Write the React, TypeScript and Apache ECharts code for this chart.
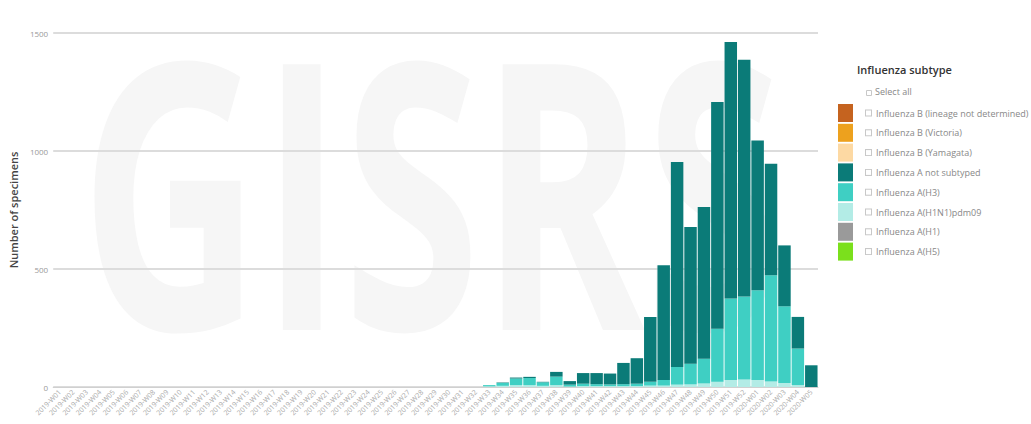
import React, { useEffect, useRef } from "react";
import * as echarts from "echarts";

const weeks: string[] = [
  "2019-W01","2019-W02","2019-W03","2019-W04","2019-W05","2019-W06","2019-W07","2019-W08","2019-W09","2019-W10",
  "2019-W11","2019-W12","2019-W13","2019-W14","2019-W15","2019-W16","2019-W17","2019-W18","2019-W19","2019-W20",
  "2019-W21","2019-W22","2019-W23","2019-W24","2019-W25","2019-W26","2019-W27","2019-W28","2019-W29","2019-W30",
  "2019-W31","2019-W32","2019-W33","2019-W34","2019-W35","2019-W36","2019-W37","2019-W38","2019-W39","2019-W40",
  "2019-W41","2019-W42","2019-W43","2019-W44","2019-W45","2019-W46","2019-W47","2019-W48","2019-W49","2019-W50",
  "2019-W51","2019-W52","2020-W01","2020-W02","2020-W03","2020-W04","2020-W05"
];

const aNotSubtyped: number[] = [
  0,0,0,0,0,0,0,0,0,0, 0,0,0,0,0,0,0,0,0,0, 0,0,0,0,0,0,0,0,0,0,
  0,0,0,2,4,5,2,20,15,45, 47,46,90,108,275,486,868,579,643,961,
  1087,1003,635,473,258,134,92
];
const aH3: number[] = [
  0,0,0,0,0,0,0,0,0,0, 0,0,0,0,0,0,0,0,0,0, 0,0,0,0,0,0,0,0,0,0,
  0,0,5,12,28,30,15,36,8,10, 8,7,8,10,16,24,75,88,105,225,
  345,352,380,450,325,155,0
];
const aH1N1pdm09: number[] = [
  0,0,0,0,0,0,0,0,0,0, 0,0,0,0,0,0,0,0,0,0, 0,0,0,0,0,0,0,0,0,0,
  0,0,3,5,8,8,5,8,2,4, 4,4,4,4,6,6,10,11,15,22,
  30,32,30,23,17,8,0
];
const aH1: number[] = new Array(57).fill(0);
const aH5: number[] = new Array(57).fill(0);
const bYamagata: number[] = new Array(57).fill(0);
const bVictoria: number[] = new Array(57).fill(0);
const bNotDetermined: number[] = new Array(57).fill(0);

const yTicks = { min: 0, max: 1500, interval: 500 };

const seriesDefs = [
  { name: "Influenza A(H5)", data: aH5, color: "#7be01c" },
  { name: "Influenza A(H1)", data: aH1, color: "#9a9a9a" },
  { name: "Influenza A(H1N1)pdm09", data: aH1N1pdm09, color: "#b3ece6" },
  { name: "Influenza A(H3)", data: aH3, color: "#3fcfc3" },
  { name: "Influenza A not subtyped", data: aNotSubtyped, color: "#0b7b78" },
  { name: "Influenza B (Yamagata)", data: bYamagata, color: "#fdd9a3" },
  { name: "Influenza B (Victoria)", data: bVictoria, color: "#eda11e" },
  { name: "Influenza B (lineage not determined)", data: bNotDetermined, color: "#c5631f" },
];

const legendOrder = [
  "Influenza B (lineage not determined)",
  "Influenza B (Victoria)",
  "Influenza B (Yamagata)",
  "Influenza A not subtyped",
  "Influenza A(H3)",
  "Influenza A(H1N1)pdm09",
  "Influenza A(H1)",
  "Influenza A(H5)",
];

export default function App() {
  const ref = useRef<HTMLDivElement>(null);
  useEffect(() => {
    document.body.style.margin = "0";
    if (!ref.current) return;
    const chart = echarts.init(ref.current, null, { renderer: "svg" });
    const font = "'Open Sans', sans-serif";
    chart.setOption({
      animation: false,
      textStyle: { fontFamily: font },
      grid: { left: 53, right: 213, top: 33, bottom: 37, containLabel: false },
      graphic: [
        {
          type: "text",
          z: -10,
          silent: true,
          x: 80,
          y: 372,
          scaleX: 0.67,
          style: {
            text: "GISRS",
            fill: "#f6f6f6",
            font: "bold 372px 'Open Sans', sans-serif",
            verticalAlign: "bottom",
          },
        },
        {
          type: "text",
          left: 857,
          top: 64,
          style: { text: "Influenza subtype", fill: "#333", font: "600 11px 'Open Sans', sans-serif" },
        },
        {
          type: "rect",
          left: 866,
          top: 90,
          shape: { width: 5, height: 5 },
          style: { fill: "#fff", stroke: "#c8c8c8", lineWidth: 1 },
        },
        {
          type: "text",
          left: 875,
          top: 87,
          style: { text: "Select all", fill: "#888", font: "9px 'Open Sans', sans-serif" },
        },
      ],
      legend: {
        orient: "vertical",
        left: 838,
        top: 104,
        padding: 0,
        itemWidth: 15,
        itemHeight: 18,
        itemGap: 1.8,
        icon: "rect",
        selectedMode: false,
        data: legendOrder,
        formatter: (name: string) => `{box|}{sp|}{t|${name}}`,
        textStyle: {
          rich: {
            box: { width: 5, height: 5, borderColor: "#c8c8c8", borderWidth: 1, backgroundColor: "#fff" },
            sp: { width: 5 },
            t: { fontSize: 9, color: "#888", fontFamily: font },
          },
          padding: [0, 0, 0, 8],
        },
      },
      xAxis: {
        type: "category",
        data: weeks,
        axisTick: { show: false },
        axisLine: { lineStyle: { color: "#d0d0d0", width: 1 } },
        axisLabel: { rotate: 45, interval: 0, fontSize: 7, color: "#aaa", margin: 4 },
      },
      yAxis: {
        type: "value",
        min: yTicks.min,
        max: yTicks.max,
        interval: yTicks.interval,
        name: "Number of specimens",
        nameLocation: "middle",
        nameGap: 33,
        nameTextStyle: { fontSize: 11, color: "#444", fontWeight: 600 },
        axisLabel: { fontSize: 8, color: "#999", margin: 5, formatter: (v: number) => String(v) },
        axisLine: { show: false },
        axisTick: { show: false },
        splitLine: { lineStyle: { color: "#dcdcdc", width: 2 } },
      },
      series: seriesDefs.map((s) => ({
        name: s.name,
        type: "bar",
        stack: "total",
        data: s.data,
        barCategoryGap: "7%",
        itemStyle: { color: s.color },
      })),
    });
    return () => chart.dispose();
  }, []);
  return <div ref={ref} style={{ width: 1031, height: 424 }} />;
}
